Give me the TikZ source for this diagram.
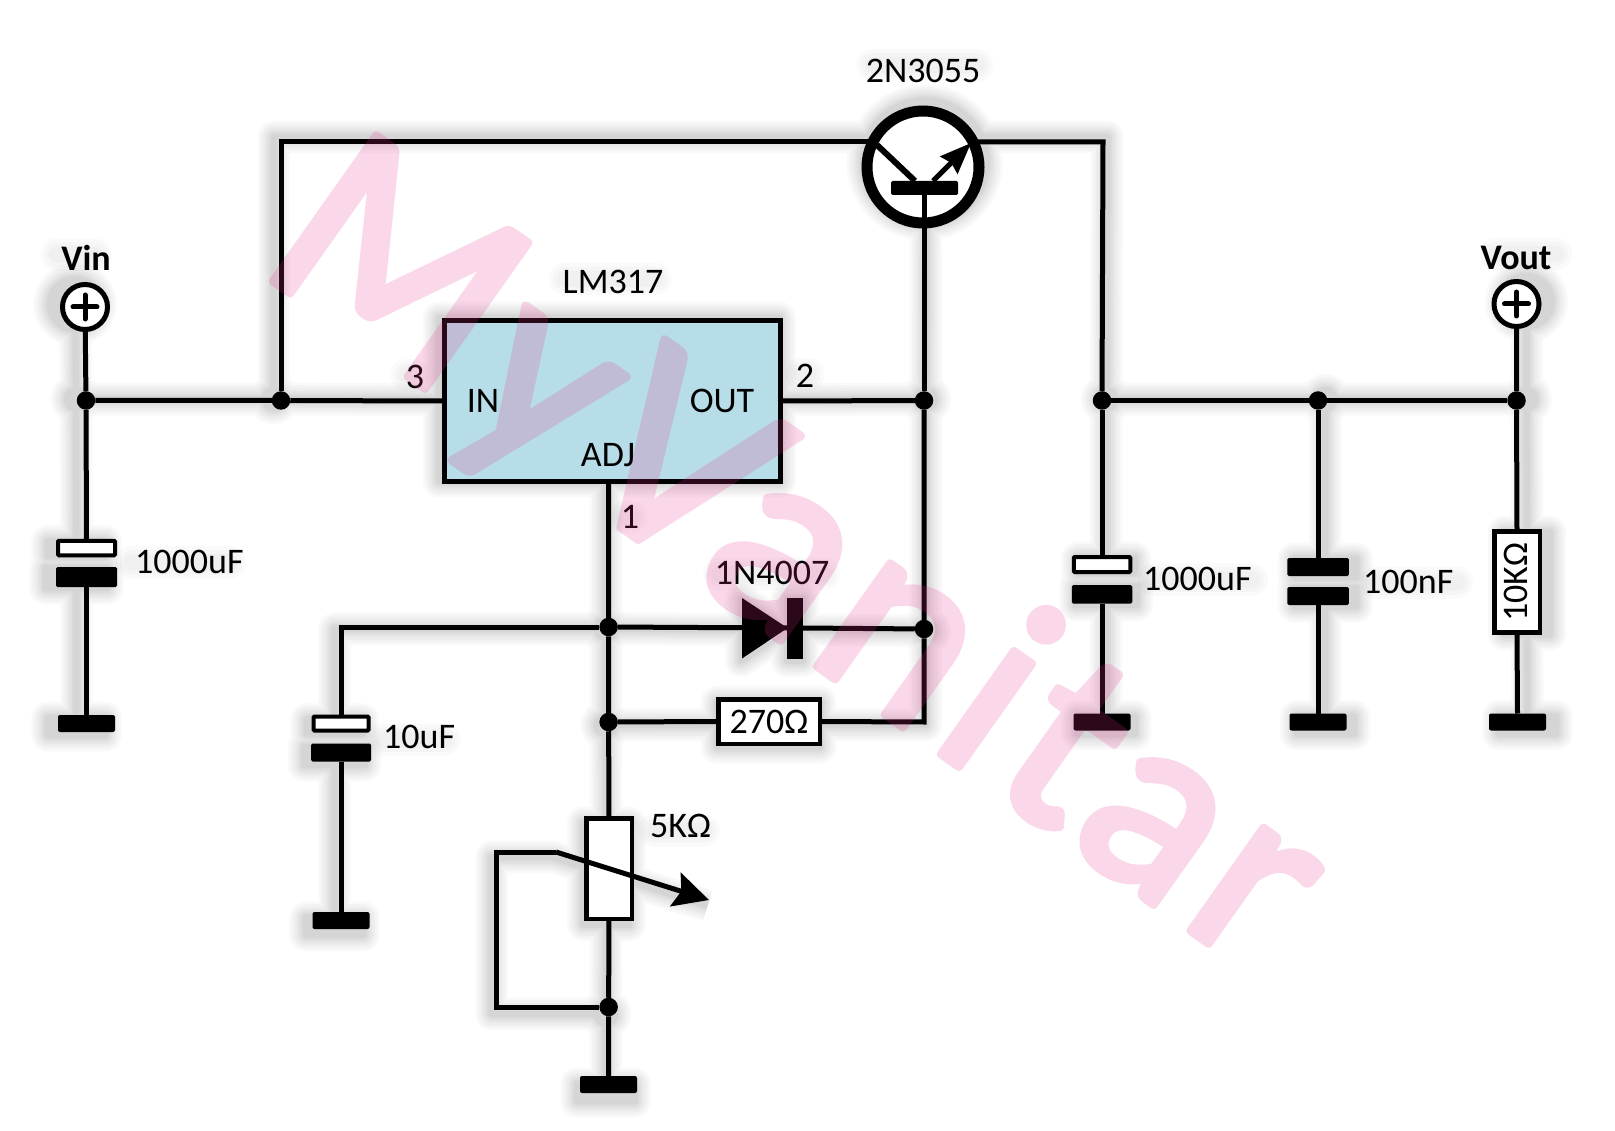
\documentclass[tikz,border=0pt]{standalone}
\usepackage{fontspec}
\setmainfont{Carlito}
\newfontfamily\wmfont[FakeBold=3.2,LetterSpace=4.4]{Lato}
\usetikzlibrary{arrows.meta}
\definecolor{lmblue}{HTML}{B7DDE8}
\definecolor{wmpink}{RGB}{232,46,140}
\pgfdeclarelayer{shadowlayer}
\pgfsetlayers{shadowlayer,main}
\tikzset{
  dims/.style 2 args={minimum width=#1pt,minimum height=#2pt},
  part/.style={inner sep=0pt,outer sep=0pt,rectangle},
  wire/.style={draw=black,line width=5pt,line join=miter},
  dot/.style={circle,fill=black,inner sep=0pt,outer sep=0pt,minimum size=18.5pt},
  plate/.style={part,fill=black,rounded corners=1.5pt},
  hollow/.style={part,draw=black,fill=white,line width=4pt,rounded corners=1pt},
  gnd/.style={part,fill=black,rounded corners=2pt,dims={57}{17}},
  res/.style={part,draw=black,fill=white,line width=4.5pt},
  term/.style={circle,draw=black,fill=white,line width=5pt,inner sep=0pt,outer sep=0pt,minimum size=45pt},
  lbl/.style={inner sep=0pt,font=\fontsize{36}{40}\selectfont},
  lbll/.style={lbl,anchor=west},
  boldlbl/.style={lbl,font=\fontsize{36}{40}\selectfont\bfseries},
}
\newcommand{\shadowwires}{%
  \draw (vin) -- (j1) -- (capaw.north);
  \draw (capab.south) -- (ga.north);
  \draw (j1) -- (j2) -- (lm.west);
  \draw (j2) -- (tl) -- (qcl);
  \draw (qer) -- (tr) -- (j4);
  \draw (lm.east) -- (j3) -- (qbar.south);
  \draw (j3) -- (j7) -- (br) -- (rb.east);
  \draw (rb.west) -- (j8);
  \draw (j9 |- lm.south) -- (j9) -- (j8) -- (rp.north);
  \draw (rp.south) -- (j10) -- (gp.north);
  \draw (j10) -- (lb) -- (lt) -- (la) -- (ta);
  \draw (j9) -- (ct) -- (capcw.north);
  \draw (capcb.south) -- (gc.north);
  \draw (j9) -- (da2);
  \draw (dbar.east) -- (j7);
  \draw (j4) -- (j6);
  \draw (j4) -- (capdw.north);
  \draw (capdb.south) -- (gd.north);
  \draw (j5) -- (capeb.north);
  \draw (capef.south) -- (ge.north);
  \draw (vout) -- (j6) -- (rf.north);
  \draw (rf.south) -- (gf.north);
  \foreach \n in {capaw,capab,ga,capcw,capcb,gc,capdw,capdb,gd,capeb,capef,ge,gf,gp,rb,rp,rf,lm,qbar,dbar}
    \filldraw (\n.north west) rectangle (\n.south east);
  \foreach \n in {vin,vout} \filldraw (\n) circle (25);
  \filldraw (q) circle (61);
  \foreach \n in {j1,j2,j3,j4,j5,j6,j7,j8,j9,j10} \filldraw (\n) circle (9);
  \filldraw (da1) -- (da2) -- (da3) -- cycle;
}
\newcommand{\shadowtexts}{%
  \foreach \n in {vinl,voutl,qname,lmname,dname,la1,la2,lc,le,lr5,pin1,pin2,pin3}
    \draw[line cap=round] ([xshift=6pt]\n.west) -- ([xshift=-6pt]\n.east);
}
\begin{document}
\begin{tikzpicture}[x=1pt,y=-1pt]
\useasboundingbox (0,0) rectangle (1615,1131);

% --- components
\node[term] (vin) at (85,307) {};
\node[term] (vout) at (1516.5,304) {};
\node[boldlbl] (vinl) at (86,258) {Vin};
\node[boldlbl] (voutl) at (1516,257.5) {Vout};

\node[part,draw=black,fill=lmblue,line width=5pt,dims={336}{161}] (lm) at (612,401) {};
\node[lbl] (lmname) at (613,282) {LM317};
\node[lbl] (lmin) at (483,401) {IN};
\node[lbl] (lmout) at (722,401) {OUT};
\node[lbl] (lmadj) at (608,455) {ADJ};
\node[lbl] (pin3) at (415,377) {3};
\node[lbl] (pin2) at (805,376) {2};
\node[lbl] (pin1) at (630,517) {1};

% transistor
\node[circle,draw=black,fill=white,line width=11pt,inner sep=0pt,outer sep=0pt,minimum size=112pt] (q) at (923,167) {};
\node[plate,dims={67}{14}] (qbar) at (924.5,188) {};
\node[lbl] (qname) at (923,71) {2N3055};

% junctions
\node[dot] (j1) at (86,400.5) {};
\node[dot] (j2) at (281,400.5) {};
\node[dot] (j3) at (924,400.5) {};
\node[dot] (j4) at (1102,400.5) {};
\node[dot] (j5) at (1318,400.5) {};
\node[dot] (j6) at (1516.5,400.5) {};
\node[dot] (j7) at (924,629) {};
\node[dot] (j8) at (608.6,722) {};
\node[dot] (j9) at (608.6,627) {};
\node[dot] (j10) at (608.6,1007) {};

% corners
\coordinate (tl) at (281,142);
\coordinate (tr) at (1103,142);
\coordinate (qcl) at (868,142);
\coordinate (qer) at (978,142);
\coordinate (qc1) at (877,145);
\coordinate (qc2) at (915,181);
\coordinate (qe1) at (933,181);
\coordinate (qe2) at (971,143);
\coordinate (br) at (924,722);
\coordinate (lb) at (496,1007);
\coordinate (lt) at (496,852);
\coordinate (la) at (556,852);
\coordinate (ta) at (709,900);
\coordinate (ct) at (341,627);
\coordinate (da1) at (742,598);
\coordinate (da2) at (787.5,628);
\coordinate (da3) at (742,658.5);

% left 1000uF
\node[hollow,dims={57}{14.5}] (capaw) at (86.5,548) {};
\node[plate,dims={61}{20}] (capab) at (86.5,577) {};
\node[gnd] (ga) at (86.5,723.5) {};
\node[lbll] (la1) at (135,561.5) {1000uF};

% 10uF
\node[hollow,dims={55}{14}] (capcw) at (341,723.5) {};
\node[plate,dims={60}{18}] (capcb) at (341,752.5) {};
\node[gnd] (gc) at (341,920.5) {};
\node[lbll] (lc) at (383,736.5) {10uF};

% diode
\node[plate,rounded corners=0pt,dims={15.5}{61}] (dbar) at (795,628) {};
\node[lbl] (dname) at (772,573) {1N4007};

% 270 ohm
\node[res,dims={101.5}{44.5}] (rb) at (769,721.5) {};
\node[lbl] (rbt) at (769,722) {270Ω};

% 5k pot
\node[res,dims={45.5}{100.5}] (rp) at (609,868.5) {};
\node[lbll] (lr5) at (650,826) {5KΩ};
\node[gnd] (gp) at (608.5,1084.5) {};

% right side
\node[hollow,dims={56.5}{15}] (capdw) at (1102,564.5) {};
\node[plate,dims={60.5}{18.5}] (capdb) at (1102,594.3) {};
\node[gnd] (gd) at (1102,722) {};
\node[lbll] (la2) at (1143,578.5) {1000uF};

\node[plate,dims={61.5}{18}] (capeb) at (1318,567) {};
\node[plate,dims={61.5}{18}] (capef) at (1318,596) {};
\node[gnd] (ge) at (1318,722) {};
\node[lbll] (le) at (1363,581.5) {100nF};

\node[res,dims={45.5}{101}] (rf) at (1517,582) {};
\node[lbl,rotate=90] (rft) at (1516,582) {10KΩ};
\node[gnd] (gf) at (1517.5,722) {};

% --- wires
\draw[wire] (vin) -- (j1) -- (capaw.north);
\draw[wire] (capab.south) -- (ga.north);
\draw[wire] (j1) -- (j2) -- (lm.west);
\draw[wire] (j2) -- (tl) -- (qcl);
\draw[wire] (qer) -- (tr) -- (j4);
\draw[wire] (lm.east) -- (j3);
\draw[wire] (j3) -- (qbar.south -| j3);
\draw[wire] (j3) -- (j7) -- (br) -- (rb.east);
\draw[wire] (rb.west) -- (j8);
\draw[wire] (j9 |- lm.south) -- (j9) -- (j8) -- (rp.north);
\draw[wire] (rp.south) -- (j10) -- (gp.north);
\draw[wire] (j10) -- (lb) -- (lt) -- (la);
\draw[wire,-{Stealth[length=35pt,width=35pt,inset=6pt]}] (la) -- (ta);
\draw[wire] (j9) -- (ct) -- (capcw.north);
\draw[wire] (capcb.south) -- (gc.north);
\draw[wire] (j9) -- (da2);
\fill[black] (da1) -- (da2) -- (da3) -- cycle;
\draw[wire] (dbar.east) -- (j7);
\draw[wire] (j4) -- (j6);
\draw[wire] (j4) -- (capdw.north);
\draw[wire] (capdb.south) -- (gd.north);
\draw[wire] (j5) -- (capeb.north);
\draw[wire] (capef.south) -- (ge.north);
\draw[wire] (vout) -- (j6) -- (rf.north);
\draw[wire] (rf.south) -- (gf.north);
% transistor inner strokes
\draw[wire,line width=6pt] (qc1) -- (qc2);
\draw[wire,-{Stealth[length=31pt,width=24pt,inset=3pt]}] (qe1) -- (qe2);
% plus signs
\draw[line width=5pt,line cap=round] (vin) +(-12,0) -- +(12,0) (vin) +(0,-12) -- +(0,12);
\draw[line width=5pt,line cap=round] (vout) +(-12,0) -- +(12,0) (vout) +(0,-12) -- +(0,12);

% --- soft perspective shadow
\begin{pgfonlayer}{shadowlayer}
\fill[white] (0,0) rectangle (1615,1131);
\begin{scope}[transform canvas={shift={(800,500)},scale=1.014,shift={(-800,-500)}}]
  \foreach \w in {32,27,22,17,13,9,6}{
    \begin{scope}[transparency group,opacity=0.024]
      \path (0,0) rectangle (1615,1131);
      \begin{scope}[black,fill=black,draw=black,line join=round,line width=\w pt]
        \shadowwires
      \end{scope}
    \end{scope}
  }
  \foreach \w in {32,24,16}{
    \begin{scope}[transparency group,opacity=0.018]
      \path (0,0) rectangle (1615,1131);
      \begin{scope}[black,fill=black,draw=black,line width=\w pt]
        \shadowtexts
      \end{scope}
    \end{scope}
  }
\end{scope}
\end{pgfonlayer}

% --- watermark
\begin{scope}[transparency group,opacity=0.19]
  \path (0,0) rectangle (1615,1131);
  \begin{scope}[line join=round]
    \node[anchor=base west,inner sep=0pt,rotate=-35.3,text=wmpink,
      font={\wmfont\fontsize{250}{270}\selectfont}] (wm) at (254,268) {MyVanitar};
  \end{scope}
\end{scope}
\end{tikzpicture}
\end{document}
